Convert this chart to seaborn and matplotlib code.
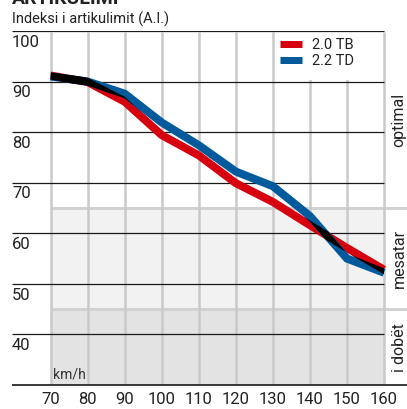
import numpy as np
import pandas as pd
import matplotlib
matplotlib.use("Agg")
import matplotlib.pyplot as plt
from matplotlib.lines import Line2D
from matplotlib.patches import Rectangle
import seaborn as sns

# data
speeds = [70, 80, 90, 100, 110, 120, 130, 140, 150, 160]
tb_20 = [91.2, 89.9, 86.0, 79.4, 75.4, 69.9, 66.2, 61.6, 57.1, 52.8]
td_22 = [91.0, 90.0, 87.6, 81.9, 77.4, 72.2, 69.3, 63.4, 55.0, 52.2]
series_names = ['2.0 TB', '2.2 TD']
series_colors = ['#d7000f', '#005a9c']
y_levels = [100, 90, 80, 70, 60, 50, 40]
zone_names = ['optimal', 'mesatar', 'i dobët']
zone_limits = [100, 65, 45, 30]
zone_colors = ['#ffffff', '#f2f2f2', '#e3e3e3']

sns.set_theme(style='white')
plt.rcParams['font.family'] = ['Roboto', 'DejaVu Sans']
TXT = '#222222'

W, H = 407, 409
fig = plt.figure(figsize=(W / 100, H / 100), dpi=100)
# axes covers the whole framed area, from px 12 to 407 and y px 31 to 385
ax = fig.add_axes([12 / W, (H - 385) / H, 395 / W, 354 / H])

PX_X = (384 - 50.7) / 90.0   # px per km/h
PX_Y = (385 - 31) / 70.0     # px per index unit
x_left = 70 - (50.7 - 12) / PX_X
x_right = 160 + (407 - 384) / PX_X
ax.set_xlim(x_left, x_right)
ax.set_ylim(30, 100)

# zone shading
for i, name in enumerate(zone_names):
    top, bot = zone_limits[i], zone_limits[i + 1]
    ax.fill_between([70, 160], bot, top, color=zone_colors[i], lw=0, zorder=0)
    ax.text(160 + 15 / PX_X, (top + bot) / 2, name, rotation=90, ha='center', va='center',
            fontsize=11.5, color=TXT)
ax.hlines(zone_limits[1:3], 70, x_right, color='#d2d2d2', lw=2.2, zorder=1)

# vertical grid
ax.vlines(speeds, 30, 99.8, color='#c9c9c9', lw=1.8, zorder=1)

# legend backdrop
ax.add_patch(Rectangle((130.6, 90.4), 29.0, 9.4, color='white', lw=0, zorder=1.5))

# horizontal lines
ax.hlines(y_levels, x_left, 160, color='#1a1a1a', lw=0.9, zorder=2)
ax.hlines(30, x_left, x_right, color='#1a1a1a', lw=1.2, zorder=2, clip_on=False)

for v in y_levels:
    ax.text(x_left, v - 3.1, str(v), ha='left', va='baseline', fontsize=12, color=TXT)

# the two series
df = pd.DataFrame({
    'speed': speeds * 2,
    'index': tb_20 + td_22,
    'model': [series_names[0]] * len(speeds) + [series_names[1]] * len(speeds),
})
LW = 8.0  # px
sns.lineplot(data=df, x='speed', y='index', hue='model', palette=series_colors,
             lw=LW * 0.72, legend=False, ax=ax, zorder=3,
             solid_capstyle='butt', solid_joinstyle='miter')


# where the two strokes overlap the colours multiply to black
def stroke_band(vals, xs):
    v = np.asarray(vals, float)
    slope = np.diff(v) / np.diff(speeds) * (PX_Y / PX_X)
    hseg = LW / 2 * np.sqrt(1 + slope ** 2) / PX_Y
    hpt = np.concatenate([[hseg[0]], (hseg[:-1] + hseg[1:]) / 2, [hseg[-1]]])
    c = np.interp(xs, speeds, v)
    h = np.interp(xs, speeds, hpt)
    return c - h, c + h


xs = np.linspace(70, 160, 901)
r_lo, r_hi = stroke_band(tb_20, xs)
b_lo, b_hi = stroke_band(td_22, xs)
lo = np.maximum(r_lo, b_lo)
hi = np.minimum(r_hi, b_hi)
ax.fill_between(xs, lo, hi, where=hi > lo, color='black', lw=0, zorder=4, interpolate=True)

ax.text(70 + 2.6 / PX_X, 30 + (385 - 378.3) / PX_Y, 'km/h', ha='left', va='baseline',
        fontsize=10, color='#333333')

# legend
handles = [Line2D([], [], color=c, lw=7 * 0.72, solid_capstyle='butt') for c in series_colors]
ax.legend(handles, series_names, loc='upper left', bbox_to_anchor=(280 / W, 1 - 38 / H),
          bbox_transform=fig.transFigure, frameon=False, fontsize=10.5, handlelength=1.5,
          handletextpad=0.68, labelspacing=0.15, borderpad=0, borderaxespad=0,
          labelcolor=TXT)

# x ticks
ax.set_xticks(speeds)
ax.set_xticklabels([str(s) for s in speeds], fontsize=12, color=TXT)
ax.tick_params(axis='x', length=0, pad=5.4)
ax.set_yticks([])
ax.set_xlabel('')
ax.set_ylabel('')
for s in ax.spines.values():
    s.set_visible(False)

fig.text(12 / W, 1 - 24 / H, 'Indeksi i artikulimit (A.I.)', ha='left', va='baseline',
         fontsize=10.5, color=TXT)
# headline sits mostly above the crop, as in the reference
fig.text(12 / W, 1 - 4.5 / H, 'ARTIKULIMI', ha='left', va='baseline', fontsize=14,
         fontweight='bold', color=TXT)

fig.savefig('out.png', dpi=100)
